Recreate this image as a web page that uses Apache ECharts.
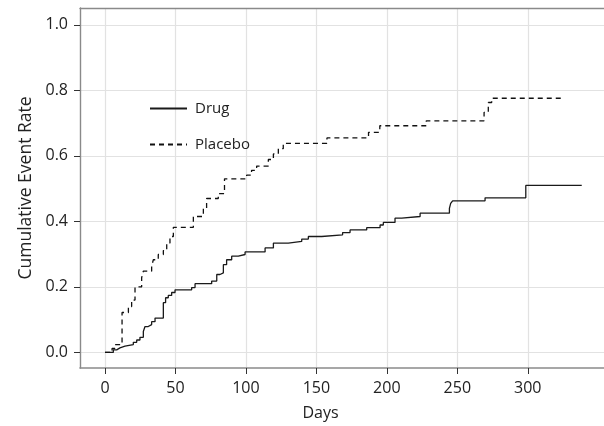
<!DOCTYPE html>
<html><head><meta charset="utf-8">
<script src="https://cdn.jsdelivr.net/npm/echarts@6/dist/echarts.min.js"></script>
<style>html,body{margin:0;padding:0;background:#fff}#c{width:604px;height:426px}</style>
</head><body><div id="c"></div>
<script>
const xTicks = [0, 50, 100, 150, 200, 250, 300];
const yTicks = [0, 0.2, 0.4, 0.6, 0.8, 1.0];
const seriesNames = ['Drug', 'Placebo'];
const xTitle = 'Days';
const yTitle = 'Cumulative Event Rate';

const drugDays = [0, 5.9, 8.3, 10.6, 14.2, 20.1, 22.5, 24.8, 27.2, 28.4, 30.7, 33.1, 35.5, 41.4, 43, 44.9, 47.3, 49.7, 61.5, 63.9, 75.7, 79.3, 81.6, 84, 86.3, 89.9, 94.6, 99.4, 113.6, 119.5, 130.1, 139.6, 144.3, 153.8, 168.6, 173.9, 185.7, 195.2, 197.5, 205.8, 210.6, 223.6, 244.4, 245.3, 246.7, 269.7, 298.6, 338.3];
const drugRate = [0, 0.008, 0.014, 0.019, 0.024, 0.031, 0.038, 0.046, 0.064, 0.079, 0.085, 0.094, 0.105, 0.152, 0.167, 0.174, 0.183, 0.191, 0.198, 0.21, 0.218, 0.238, 0.243, 0.268, 0.283, 0.294, 0.299, 0.307, 0.319, 0.334, 0.339, 0.346, 0.354, 0.359, 0.366, 0.374, 0.381, 0.389, 0.397, 0.41, 0.415, 0.425, 0.44, 0.455, 0.463, 0.472, 0.51, 0.51];

const placeboDays = [0, 5, 7.1, 12.1, 16.6, 18.9, 21.3, 26, 27.2, 33.1, 34.3, 37.8, 41.4, 43.8, 46.1, 48.5, 62.7, 69.8, 72.1, 80.4, 84.8, 100.5, 104, 107.6, 115.9, 119.5, 123, 126.5, 157.5, 187, 195, 228, 269, 272, 274.4, 325];
const placeboRate = [0, 0.012, 0.024, 0.122, 0.14, 0.16, 0.2, 0.228, 0.248, 0.263, 0.283, 0.299, 0.311, 0.334, 0.354, 0.382, 0.415, 0.44, 0.47, 0.485, 0.53, 0.541, 0.556, 0.569, 0.589, 0.606, 0.622, 0.638, 0.655, 0.672, 0.692, 0.707, 0.733, 0.763, 0.776, 0.776];

const zip = (a, b) => a.map((v, i) => [v, b[i]]);
const FONT = 'Open Sans';
const TXT = '#222';
const xMin = -17.74, xMax = 354.1, yMin = -0.0475, yMax = 1.0515;

const chart = echarts.init(document.getElementById('c'), null, {renderer: 'canvas'});
chart.setOption({
  animation: false,
  backgroundColor: '#fff',
  textStyle: {fontFamily: FONT},
  grid: {left: 80, right: 0, top: 8, bottom: 55},
  legend: {
    orient: 'vertical', left: 149, top: 101, padding: 0,
    itemWidth: 37, itemHeight: 16, itemGap: 21,
    data: seriesNames,
    itemStyle: {opacity: 0},
    textStyle: {fontFamily: FONT, fontSize: 15, color: TXT, padding: [0, 0, 0, 3]}
  },
  xAxis: [{
    type: 'value', min: xMin, max: xMax,
    name: xTitle, nameLocation: 'middle', nameGap: 37,
    nameTextStyle: {fontFamily: FONT, fontSize: 16, color: TXT, padding: [0, 43, 0, 0]},
    axisLine: {show: true, onZero: false, lineStyle: {color: '#8a8a8a', width: 1.6}},
    axisTick: {show: true, length: 6, customValues: xTicks, lineStyle: {color: '#333', width: 1}},
    axisLabel: {customValues: xTicks, margin: 12, fontFamily: FONT, fontSize: 16, color: TXT},
    splitLine: {show: true, lineStyle: {color: '#e2e2e2', width: 1.2}}
  }, {
    type: 'value', position: 'top', min: xMin, max: xMax,
    axisLine: {show: true, onZero: false, lineStyle: {color: '#8a8a8a', width: 1.4}},
    axisTick: {show: false}, axisLabel: {show: false}, splitLine: {show: false}
  }],
  yAxis: {
    type: 'value', min: yMin, max: yMax,
    name: yTitle, nameLocation: 'middle', nameGap: 45,
    nameTextStyle: {fontFamily: FONT, fontSize: 17.5, color: TXT},
    axisLine: {show: true, onZero: false, lineStyle: {color: '#8a8a8a', width: 1.4}},
    axisTick: {show: true, length: 6, customValues: yTicks, lineStyle: {color: '#333', width: 1}},
    axisLabel: {customValues: yTicks, margin: 12, fontFamily: FONT, fontSize: 16, color: TXT,
      formatter: v => v.toFixed(1)},
    splitLine: {show: true, lineStyle: {color: '#e2e2e2', width: 1.2}}
  },
  series: [{
    name: seriesNames[0], type: 'line', step: 'end', xAxisIndex: 0,
    data: zip(drugDays, drugRate), showSymbol: false, symbol: 'none',
    lineStyle: {color: '#1a1a1a', width: 1.3, type: 'solid'}, itemStyle: {color: '#1a1a1a'}
  }, {
    name: seriesNames[1], type: 'line', step: 'end', xAxisIndex: 0,
    data: zip(placeboDays, placeboRate), showSymbol: false, symbol: 'none',
    lineStyle: {color: '#111', width: 1.3, type: [5, 4]}, itemStyle: {color: '#111'}
  }]
});
</script></body></html>
